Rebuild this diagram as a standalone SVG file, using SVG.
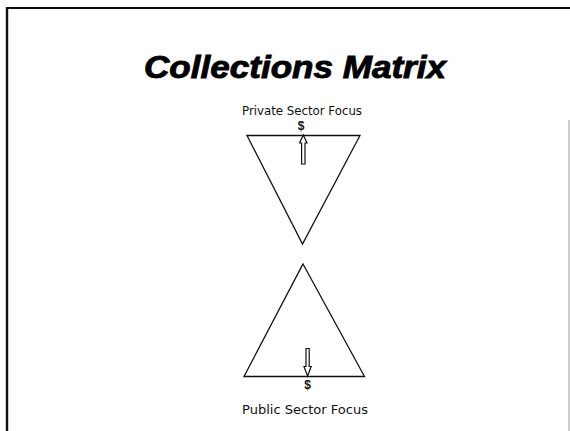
<svg xmlns="http://www.w3.org/2000/svg" width="570" height="431" viewBox="0 0 570 431">
<style>
.lbl{font-family:"DejaVu Sans","Liberation Sans",sans-serif;font-size:12.5px;fill:#111;text-anchor:middle}
.dol{font-family:"Liberation Sans",sans-serif;font-weight:bold;font-size:12px;fill:#111;text-anchor:middle}
.tri{fill:#fff;stroke:#111;stroke-width:1.3}
.arr{fill:#fff;stroke:#111;stroke-width:1.2}
</style>
<rect width="570" height="431" fill="#fff"/>
<g id="frame">
<line x1="6" y1="8" x2="570" y2="8" stroke="#111" stroke-width="2.2"/>
<line x1="7" y1="7" x2="7" y2="431" stroke="#111" stroke-width="2.4"/>
<line x1="569" y1="120" x2="569" y2="431" stroke="#999" stroke-width="1"/>
</g>
<g id="title">
<text x="295" y="78" font-family="Liberation Sans, Arial, sans-serif" font-weight="bold" font-style="italic" font-size="31" text-anchor="middle" textLength="302" lengthAdjust="spacingAndGlyphs" fill="#000" stroke="#000" stroke-width="0.9">Collections Matrix</text>
</g>
<g id="private">
<text class="lbl" x="302" y="115" textLength="120" lengthAdjust="spacingAndGlyphs">Private Sector Focus</text>
<text class="dol" x="301" y="130">$</text>
<polygon class="tri" points="247,135.5 360,135.5 302.5,244"/>
<path class="arr" d="M303.3,135 L307,143 L305,143 L305,164 L301.6,164 L301.6,143 L299.6,143 Z"/>
</g>
<g id="public">
<polygon class="tri" points="303,264 364.5,376.5 244,376.5"/>
<path class="arr" d="M307.6,376 L304,366.5 L306,366.5 L306,348.5 L309.2,348.5 L309.2,366.5 L311.2,366.5 Z"/>
<text class="dol" x="307.5" y="389">$</text>
<text class="lbl" x="305" y="414" textLength="126" lengthAdjust="spacingAndGlyphs">Public Sector Focus</text>
</g>
</svg>
